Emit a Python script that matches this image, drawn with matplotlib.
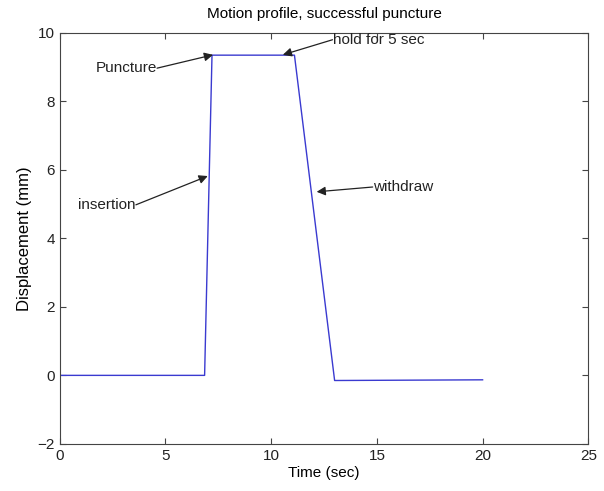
import numpy as np
import matplotlib
matplotlib.use('Agg')
import matplotlib.pyplot as plt

plt.rcParams['font.family'] = ['Liberation Sans', 'DejaVu Sans']

# motion profile breakpoints
time_s = [0.0, 6.85, 7.2, 11.1, 13.0, 20.0]
disp_mm = [0.0, 0.0, 9.35, 9.35, -0.15, -0.13]

# annotation labels: text, text position, arrow tip, alignment
notes = [
    ('Puncture', (4.6, 8.97), (7.25, 9.36), 'right'),
    ('hold for 5 sec', (12.9, 9.8), (10.55, 9.36), 'left'),
    ('insertion', (3.6, 4.98), (7.0, 5.82), 'right'),
    ('withdraw', (14.8, 5.5), (12.15, 5.36), 'left'),
]

def main():
    fig = plt.figure(figsize=(6.04, 4.91), dpi=100)
    ax = fig.add_axes([0.099, 0.096, 0.875, 0.837])
    ax.plot(time_s, disp_mm, color='#3a3ad0', lw=1.0)

    for text, xytext, xy, ha in notes:
        ax.text(xytext[0], xytext[1], text, ha=ha, va='center',
                fontsize=11, color='#222222')
        # arrow tail sits right at the text edge
        ax.annotate('', xy=xy, xytext=xytext,
                    arrowprops=dict(arrowstyle='-|>', color='#222222',
                                    lw=0.9, mutation_scale=13,
                                    shrinkA=0, shrinkB=0))

    ax.set_xlim(0, 25)
    ax.set_ylim(-2, 10)
    ax.set_xticks(np.arange(0, 26, 5))
    ax.set_yticks(np.arange(-2, 11, 2))
    ax.tick_params(direction='in', top=True, right=True, labelsize=11,
                   length=4, color='#444444', labelcolor='#222222')
    for s in ax.spines.values():
        s.set_color('#444444')
        s.set_linewidth(0.8)

    ax.set_xlabel('Time (sec)', fontsize=11, labelpad=2)
    ax.set_ylabel('Displacement (mm)', fontsize=12, labelpad=4)
    ax.set_title('Motion profile, successful puncture', fontsize=11, pad=11)

    fig.savefig('out.png', dpi=100)

if __name__ == '__main__':
    main()
